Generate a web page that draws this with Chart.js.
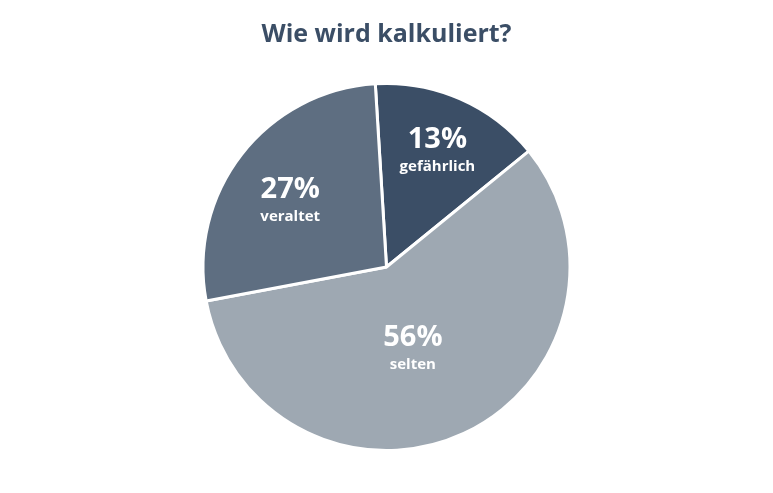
<!DOCTYPE html>
<html>
<head>
<meta charset="utf-8">
<script src="https://cdn.jsdelivr.net/npm/chart.js@4"></script>
<style>
  html, body { margin: 0; padding: 0; background: #fff; }
  #wrap { width: 773px; height: 493px; }
</style>
</head>
<body>
<div id="wrap"><canvas id="pieChart"></canvas></div>
<script>
// data
const categories = ['gefährlich', 'selten', 'veraltet'];
const percentLabels = ['13%', '56%', '27%'];
const shares = [15.1, 57.9, 27.0];   // slice sizes as drawn
const colors = ['#3b4e66', '#9ea8b2', '#5e6e81'];

// where the text sits inside each slice (fraction of radius, angle nudge in deg)
const labelRadius = [0.68, 0.48, 0.63];
const labelNudge = [0.4, 7.5, -4.3];

const sliceLabels = {
    id: 'sliceLabels',
    afterDatasetsDraw(chart) {
        const ctx = chart.ctx;
        const arcs = chart.getDatasetMeta(0).data;
        ctx.save();
        ctx.fillStyle = '#ffffff';
        ctx.textAlign = 'center';
        ctx.textBaseline = 'middle';
        arcs.forEach((arc, i) => {
            const mid = (arc.startAngle + arc.endAngle) / 2 + labelNudge[i] * Math.PI / 180;
            const r = arc.outerRadius * labelRadius[i];
            const x = arc.x + Math.cos(mid) * r;
            const y = arc.y + Math.sin(mid) * r;
            ctx.font = 'bold 29px "Open Sans"';
            ctx.fillText(percentLabels[i], x, y - 13);
            ctx.font = 'bold 15px "Open Sans"';
            ctx.fillText(categories[i], x, y + 14);
        });
        ctx.restore();
    }
};

new Chart(document.getElementById('pieChart'), {
    type: 'pie',
    data: {
        labels: categories,
        datasets: [{
            data: shares,
            backgroundColor: colors,
            borderColor: '#ffffff',
            borderWidth: 3
        }]
    },
    options: {
        responsive: true,
        maintainAspectRatio: false,
        animation: false,
        rotation: -3.5,
        layout: { padding: { top: 0, bottom: 41 } },
        plugins: {
            legend: { display: false },
            tooltip: { enabled: false },
            title: {
                display: true,
                text: 'Wie wird kalkuliert?',
                color: '#3b4e66',
                font: { family: '"Open Sans"', size: 25, weight: 'bold' },
                padding: { top: 20, bottom: 32 }
            }
        }
    },
    plugins: [sliceLabels]
});
</script>
</body>
</html>
